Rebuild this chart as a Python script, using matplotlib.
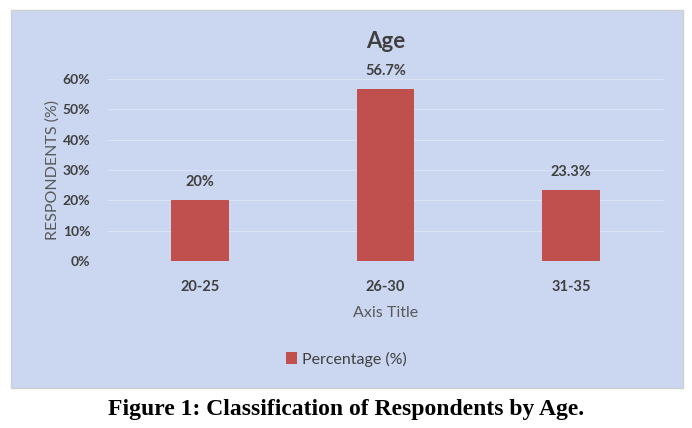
import matplotlib.pyplot as plt
from matplotlib.patches import Rectangle

# data
categories = ["20-25", "26-30", "31-35"]
values = [20.0, 56.7, 23.3]
labels = ["20%", "56.7%", "23.3%"]
yticks = [0, 10, 20, 30, 40, 50, 60]

bar_color = "#c0504d"
text_color = "#404040"
bg_color = "#cbd6f0"

plt.rcParams["font.family"] = ["Lato", "DejaVu Sans"]

W, H = 692, 428
fig = plt.figure(figsize=(W / 100, H / 100), dpi=100)
fig.patch.set_facecolor("white")

# chart area (textured background in original, solid here)
fig.patches.append(Rectangle((11 / W, 1 - 388 / H), 672 / W, 378 / H,
                             transform=fig.transFigure, facecolor=bg_color,
                             edgecolor="#d0d0d0", linewidth=1, zorder=0))

ax = fig.add_axes([107 / W, 1 - 261 / H, 557 / W, 182 / H])
ax.set_zorder(2)
ax.set_facecolor("none")
x = list(range(len(categories)))
bars = ax.bar(x, values, width=0.31, color=bar_color, zorder=3)
for b, lab in zip(bars, labels):
    ax.annotate(lab, (b.get_x() + b.get_width() / 2, b.get_height()),
                xytext=(0, 8), textcoords="offset points", ha="center",
                va="bottom", fontsize=10.5, fontweight="bold", color=text_color)

ax.set_xlim(-0.5, 2.5)
ax.set_ylim(0, 60)
ax.set_yticks(yticks)
ax.set_yticklabels([f"{t}%" for t in yticks], fontsize=10, fontweight="bold",
                   color=text_color)
ax.set_xticks(x)
ax.set_xticklabels(categories, fontsize=10.5, fontweight="bold", color=text_color)
ax.tick_params(length=0, pad=12)
ax.tick_params(axis="x", pad=14)
ax.yaxis.grid(True, color="white", alpha=0.3, linewidth=0.8)
ax.set_axisbelow(True)
for s in ax.spines.values():
    s.set_visible(False)

ax.set_xlabel("Axis Title", fontsize=11.5, color="#595959", labelpad=8)
ax.set_ylabel("RESPONDENTS (%)", fontsize=11.5, color="#595959", labelpad=2)
ax.set_title("Age", fontsize=16, fontweight="bold", color=text_color, pad=22)

leg = ax.legend([bars[0]], ["Percentage (%)"], loc="center",
                bbox_to_anchor=(0.5, 1 - 359 / H), bbox_transform=fig.transFigure,
                frameon=False, fontsize=11.5, handlelength=0.7, handleheight=0.7,
                handletextpad=0.3)
for t in leg.get_texts():
    t.set_color(text_color)

fig.text(0.5, 1 - 410 / H, "Figure 1: Classification of Respondents by Age.",
         ha="center", va="center", fontsize=17, fontweight="bold",
         family=["Liberation Serif", "DejaVu Serif"], color="black")

fig.savefig("out.png", dpi=100)
